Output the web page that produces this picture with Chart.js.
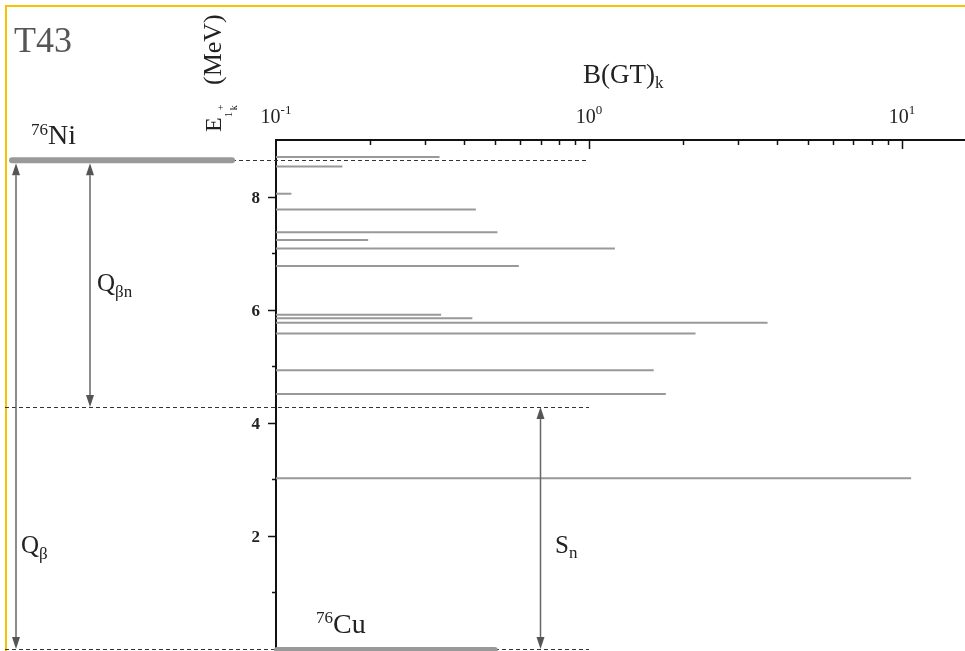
<!DOCTYPE html>
<html>
<head>
<meta charset="UTF-8">
<title>B(GT) 76Ni</title>
<script src="https://cdn.jsdelivr.net/npm/chart.js"></script>
<style>
  html, body { margin: 0; padding: 0; background: #fff; }
  #wrap { width: 965px; height: 651px; }
</style>
</head>
<body>
<div id="wrap"><canvas id="chart" width="965" height="651"></canvas></div>
<script>
// excitation energies of the 1+ states (MeV) and their B(GT)
const energies = [8.70, 8.53, 8.05, 7.77, 7.37, 7.23, 7.08, 6.77, 5.91, 5.85, 5.77, 5.58, 4.93, 4.51, 3.02];
const bgt = [0.333, 0.163, 0.112, 0.435, 0.510, 0.197, 1.21, 0.597, 0.337, 0.424, 3.72, 2.19, 1.61, 1.76, 10.7];

// levels (MeV)
const qBeta = 8.64;   // 76Ni ground state relative to 76Cu
const sN = 4.28;      // neutron separation energy
const ground = 0;

// ticks
const xMajorTicks = [0.1, 1, 10];
const xMajorExp = ['-1', '0', '1'];
const yTicks = [1, 2, 3, 4, 5, 6, 7, 8];
const yTickLabels = ['', '2', '', '4', '', '6', '', '8'];

const SERIF = '"Liberation Serif", "DejaVu Serif", serif';

function rich(ctx, x, y, parts) {
    parts.forEach(p => {
        ctx.font = (p.weight || '') + ' ' + p.size + 'px ' + SERIF;
        ctx.fillText(p.t, x + (p.dx || 0), y + (p.dy || 0));
        x += ctx.measureText(p.t).width + (p.dx || 0);
    });
    return x;
}

function dashed(ctx, x1, x2, y) {
    ctx.save();
    ctx.setLineDash([4, 3]);
    ctx.strokeStyle = '#333';
    ctx.lineWidth = 1;
    ctx.beginPath();
    ctx.moveTo(x1, Math.round(y) + 0.5);
    ctx.lineTo(x2, Math.round(y) + 0.5);
    ctx.stroke();
    ctx.restore();
}

function level(ctx, x1, x2, y) {
    ctx.save();
    ctx.strokeStyle = '#999';
    ctx.lineWidth = 6;
    ctx.lineCap = 'round';
    ctx.beginPath();
    ctx.moveTo(x1, y);
    ctx.lineTo(x2, y);
    ctx.stroke();
    ctx.restore();
}

function arrow(ctx, x, y1, y2) {
    const hl = 12, hw = 4;
    ctx.save();
    ctx.strokeStyle = '#666';
    ctx.fillStyle = '#555';
    ctx.lineWidth = 1.5;
    ctx.beginPath();
    ctx.moveTo(x, y1 + hl);
    ctx.lineTo(x, y2 - hl);
    ctx.stroke();
    ctx.beginPath();
    ctx.moveTo(x, y1); ctx.lineTo(x - hw, y1 + hl); ctx.lineTo(x + hw, y1 + hl); ctx.closePath();
    ctx.fill();
    ctx.beginPath();
    ctx.moveTo(x, y2); ctx.lineTo(x - hw, y2 - hl); ctx.lineTo(x + hw, y2 - hl); ctx.closePath();
    ctx.fill();
    ctx.restore();
}

const schemePlugin = {
    id: 'scheme',
    beforeDraw(chart) {
        const ctx = chart.ctx;
        ctx.save();
        ctx.strokeStyle = '#f5c400';
        ctx.lineWidth = 2;
        ctx.beginPath();
        ctx.moveTo(6, 660);
        ctx.lineTo(6, 6);
        ctx.lineTo(975, 6);
        ctx.stroke();
        ctx.restore();
    },
    afterDraw(chart) {
        const ctx = chart.ctx;
        const xs = chart.scales.x, ys = chart.scales.y;
        const area = chart.chartArea;
        const yNi = ys.getPixelForValue(qBeta);
        const ySn = ys.getPixelForValue(sN);
        const y0 = ys.getPixelForValue(ground);
        const x1 = xs.getPixelForValue(1);

        ctx.save();
        // x ticks (pointing down from the top axis)
        ctx.strokeStyle = '#111';
        ctx.lineWidth = 1.5;
        for (let n = -1; n <= 1; n++) {
            for (let k = 1; k <= 9; k++) {
                const v = k * Math.pow(10, n);
                if (v <= 0.1 || v > xs.max) continue;
                const px = Math.round(xs.getPixelForValue(v)) + 0.5;
                const len = k === 1 ? 9 : 5;
                ctx.beginPath();
                ctx.moveTo(px, area.top);
                ctx.lineTo(px, area.top + len);
                ctx.stroke();
            }
        }
        // y ticks (pointing left)
        yTicks.forEach((v, i) => {
            const py = Math.round(ys.getPixelForValue(v)) + 0.5;
            const len = yTickLabels[i] ? 8 : 4;
            ctx.beginPath();
            ctx.moveTo(area.left, py);
            ctx.lineTo(area.left - len, py);
            ctx.stroke();
        });

        ctx.fillStyle = '#222';
        ctx.textBaseline = 'alphabetic';
        // y tick labels
        ctx.textAlign = 'right';
        ctx.font = 'bold 17px ' + SERIF;
        yTicks.forEach((v, i) => {
            if (!yTickLabels[i]) return;
            ctx.fillText(yTickLabels[i], area.left - 16, ys.getPixelForValue(v) + 6);
        });
        // x tick labels 10^n
        ctx.textAlign = 'left';
        xMajorTicks.forEach((v, i) => {
            ctx.font = '20px ' + SERIF;
            const w1 = ctx.measureText('10').width;
            ctx.font = '13px ' + SERIF;
            const w2 = ctx.measureText(xMajorExp[i]).width;
            const px = xs.getPixelForValue(v) - (w1 + w2) / 2;
            rich(ctx, px, 123, [{ t: '10', size: 20 }, { t: xMajorExp[i], size: 13, dy: -9 }]);
        });

        // levels, dashed lines
        dashed(ctx, 232, x1, yNi);
        dashed(ctx, 5, x1, ySn);
        dashed(ctx, 5, x1, y0 - 0.5);
        level(ctx, 12, 232, yNi);
        level(ctx, area.left + 1, xs.getPixelForValue(0.5), y0 + 1);

        // arrows
        arrow(ctx, 16, yNi + 3, y0);
        arrow(ctx, 90, yNi + 3, ySn);
        arrow(ctx, xs.getPixelForValue(0.7), ySn, y0);

        // texts
        ctx.fillStyle = '#555';
        rich(ctx, 14, 52, [{ t: 'T43', size: 36 }]);
        ctx.fillStyle = '#222';
        rich(ctx, 31, 135, [{ t: '76', size: 17 }, { t: 'Ni', size: 28, dy: 9 }]);
        rich(ctx, 316, 623, [{ t: '76', size: 17 }, { t: 'Cu', size: 28, dy: 10 }]);
        rich(ctx, 97, 291, [{ t: 'Q', size: 25 }, { t: '\u03b2n', size: 17, dy: 6 }]);
        rich(ctx, 21, 553, [{ t: 'Q', size: 25 }, { t: '\u03b2', size: 17, dy: 6 }]);
        rich(ctx, 555, 553, [{ t: 'S', size: 25 }, { t: 'n', size: 17, dy: 5 }]);
        rich(ctx, 583, 83, [{ t: 'B(GT)', size: 27 }, { t: 'k', size: 17, dy: 5 }]);

        // y axis title, rotated
        ctx.save();
        ctx.translate(221, 132);
        ctx.rotate(-Math.PI / 2);
        let u = rich(ctx, 0, 0, [{ t: 'E', size: 24 }]);
        rich(ctx, u, 11, [{ t: '1', size: 11 }]);
        rich(ctx, u + 7, 3, [{ t: '+', size: 10 }]);
        rich(ctx, u + 7, 16, [{ t: 'k', size: 10 }]);
        rich(ctx, 47, 0, [{ t: '(MeV)', size: 26 }]);
        ctx.restore();

        ctx.restore();
    }
};

const datasets = energies.map((e, i) => ({
    data: [{ x: 0.1, y: e }, { x: bgt[i], y: e }],
    showLine: true,
    borderColor: '#999',
    borderWidth: 2,
    pointRadius: 0,
    borderCapStyle: 'butt'
}));

new Chart(document.getElementById('chart'), {
    type: 'scatter',
    data: { datasets: datasets },
    options: {
        responsive: false,
        animation: false,
        devicePixelRatio: 1,
        layout: { padding: { left: 0, top: 0, right: 0, bottom: 2 } },
        plugins: { legend: { display: false }, tooltip: { enabled: false } },
        scales: {
            x: {
                type: 'logarithmic',
                position: 'top',
                min: 0.1,
                max: 15.9,
                grid: { display: false },
                border: { display: true, color: '#111', width: 2 },
                ticks: { display: false },
                afterFit(s) { s.height = 140; }
            },
            y: {
                type: 'linear',
                min: 0,
                max: 9,
                grid: { display: false },
                border: { display: true, color: '#111', width: 2 },
                ticks: { display: false },
                afterFit(s) { s.width = 276; }
            }
        }
    },
    plugins: [schemePlugin]
});
</script>
</body>
</html>
